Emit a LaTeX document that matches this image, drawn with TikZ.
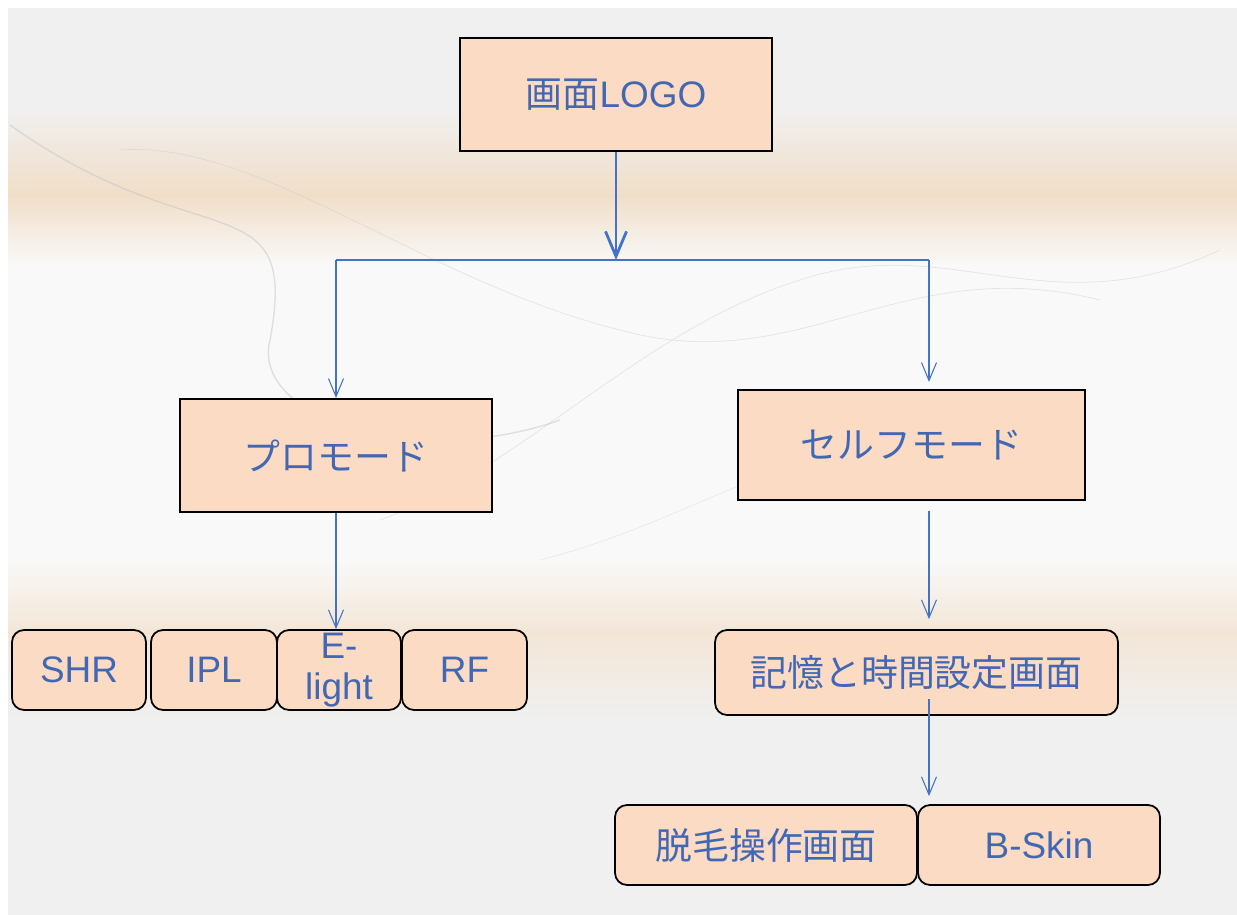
\documentclass[tikz,border=0pt]{standalone}
\usepackage{fontspec}
\setmainfont{Liberation Sans}
\newfontfamily\jp{Noto Sans CJK JP}
\usetikzlibrary{arrows.meta}
\usetikzlibrary{calc}
\definecolor{pfeil}{RGB}{68,114,196}
\definecolor{schrift}{RGB}{66,104,180}
\definecolor{lachs}{RGB}{252,219,196}
\definecolor{hintergrund}{RGB}{240,240,240}
\definecolor{hell}{RGB}{249,249,249}
\definecolor{sand}{RGB}{240,222,200}
\colorlet{rauch}{gray!45}
\begin{document}
\begin{tikzpicture}[x=0.02cm, y=-0.02cm,
    kasten/.style={draw=black, line width=1.2pt, fill=lachs, inner sep=0pt,
        text=schrift, font=\fontsize{21}{24}\selectfont},
    rund/.style={kasten, rounded corners=0.24cm, line width=1pt},
    linie/.style={pfeil, line width=0.6pt},
    pfeilspitze/.style={linie, -{Straight Barb[length=0.36cm, width=0.3cm]}}]

    \useasboundingbox (0,0) rectangle (1237,915);
    % background
    \fill[white] (0,0) rectangle (1237,915);
    \fill[hintergrund] (8,8) rectangle (1237,915);
    \shade[top color=hintergrund, bottom color=sand] (8,110) rectangle (1237,195);
    \shade[top color=sand, bottom color=hell] (8,195) rectangle (1237,265);
    \fill[hell] (8,265) rectangle (1237,560);
    \shade[top color=hell, bottom color=sand!70!hell] (8,560) rectangle (1237,632);
    \shade[top color=sand!70!hell, bottom color=hintergrund] (8,632) rectangle (1237,720);
    \draw[rauch, opacity=0.5, thick] (10,125) .. controls (200,260) and (300,180) .. (270,340)
        .. controls (250,420) and (420,470) .. (560,420);
    \draw[rauch, opacity=0.4] (120,150) .. controls (260,140) and (420,280) .. (620,330)
        .. controls (800,380) and (900,250) .. (1100,300);
    \draw[rauch, opacity=0.4] (380,520) .. controls (520,470) and (640,330) .. (800,280)
        .. controls (950,230) and (1050,330) .. (1220,250);
    \draw[rauch, opacity=0.3] (540,560) .. controls (700,520) and (820,420) .. (1000,430);

    \node[kasten, minimum width=6.24cm, minimum height=2.26cm] (logo) at (616,94.5) {{\jp 画面}LOGO};
    \node[kasten, minimum width=6.24cm, minimum height=2.26cm] (pro) at (336,455.5) {\jp プロモード};
    \node[kasten, minimum width=6.94cm, minimum height=2.2cm] (selbst) at (911.5,445) {\jp セルフモード};

    \node[rund, minimum width=2.68cm, minimum height=1.6cm] (shr) at (79,670) {SHR};
    \node[rund, minimum width=2.52cm, minimum height=1.6cm] (ipl) at (214,670) {IPL};
    \node[rund, minimum width=2.48cm, minimum height=1.6cm, align=center,
        font=\fontsize{21}{23}\selectfont] (elight) at (339,670) {E-\\light};
    \node[rund, minimum width=2.5cm, minimum height=1.6cm] (rf) at (464.5,670) {RF};

    \node[rund, minimum width=8.06cm, minimum height=1.7cm] (speicher) at (916.5,672.5) {\jp 記憶と時間設定画面};
    \node[rund, minimum width=6.04cm, minimum height=1.6cm] (haar) at (766,845) {\jp 脱毛操作画面};
    \node[rund, minimum width=4.84cm, minimum height=1.6cm] (bskin) at (1039,845) {B-Skin};

    \coordinate (mitte) at (616,260);
    \coordinate (links) at (336,260);
    \coordinate (rechts) at (929,260);

    \draw[pfeil, line width=1.6pt, -{Straight Barb[length=0.5cm, width=0.42cm]}] (logo.south) -- (mitte);
    \draw[linie, line width=1pt] (links) -- (rechts);
    \draw[pfeilspitze] (links) -- (pro.north);
    \draw[pfeilspitze] (rechts) -- ($(rechts |- selbst.north)+(0,-7)$);
    \draw[pfeilspitze] (pro.south) -- (pro.south |- elight.north);
    \draw[pfeilspitze] ($(rechts |- selbst.south)+(0,10)$) -- ($(rechts |- speicher.north)+(0,-10)$);
    \draw[pfeilspitze] ($(rechts |- speicher.south)+(0,-17)$) -- ($(rechts |- haar.north)+(0,-8)$);

\end{tikzpicture}
\end{document}
